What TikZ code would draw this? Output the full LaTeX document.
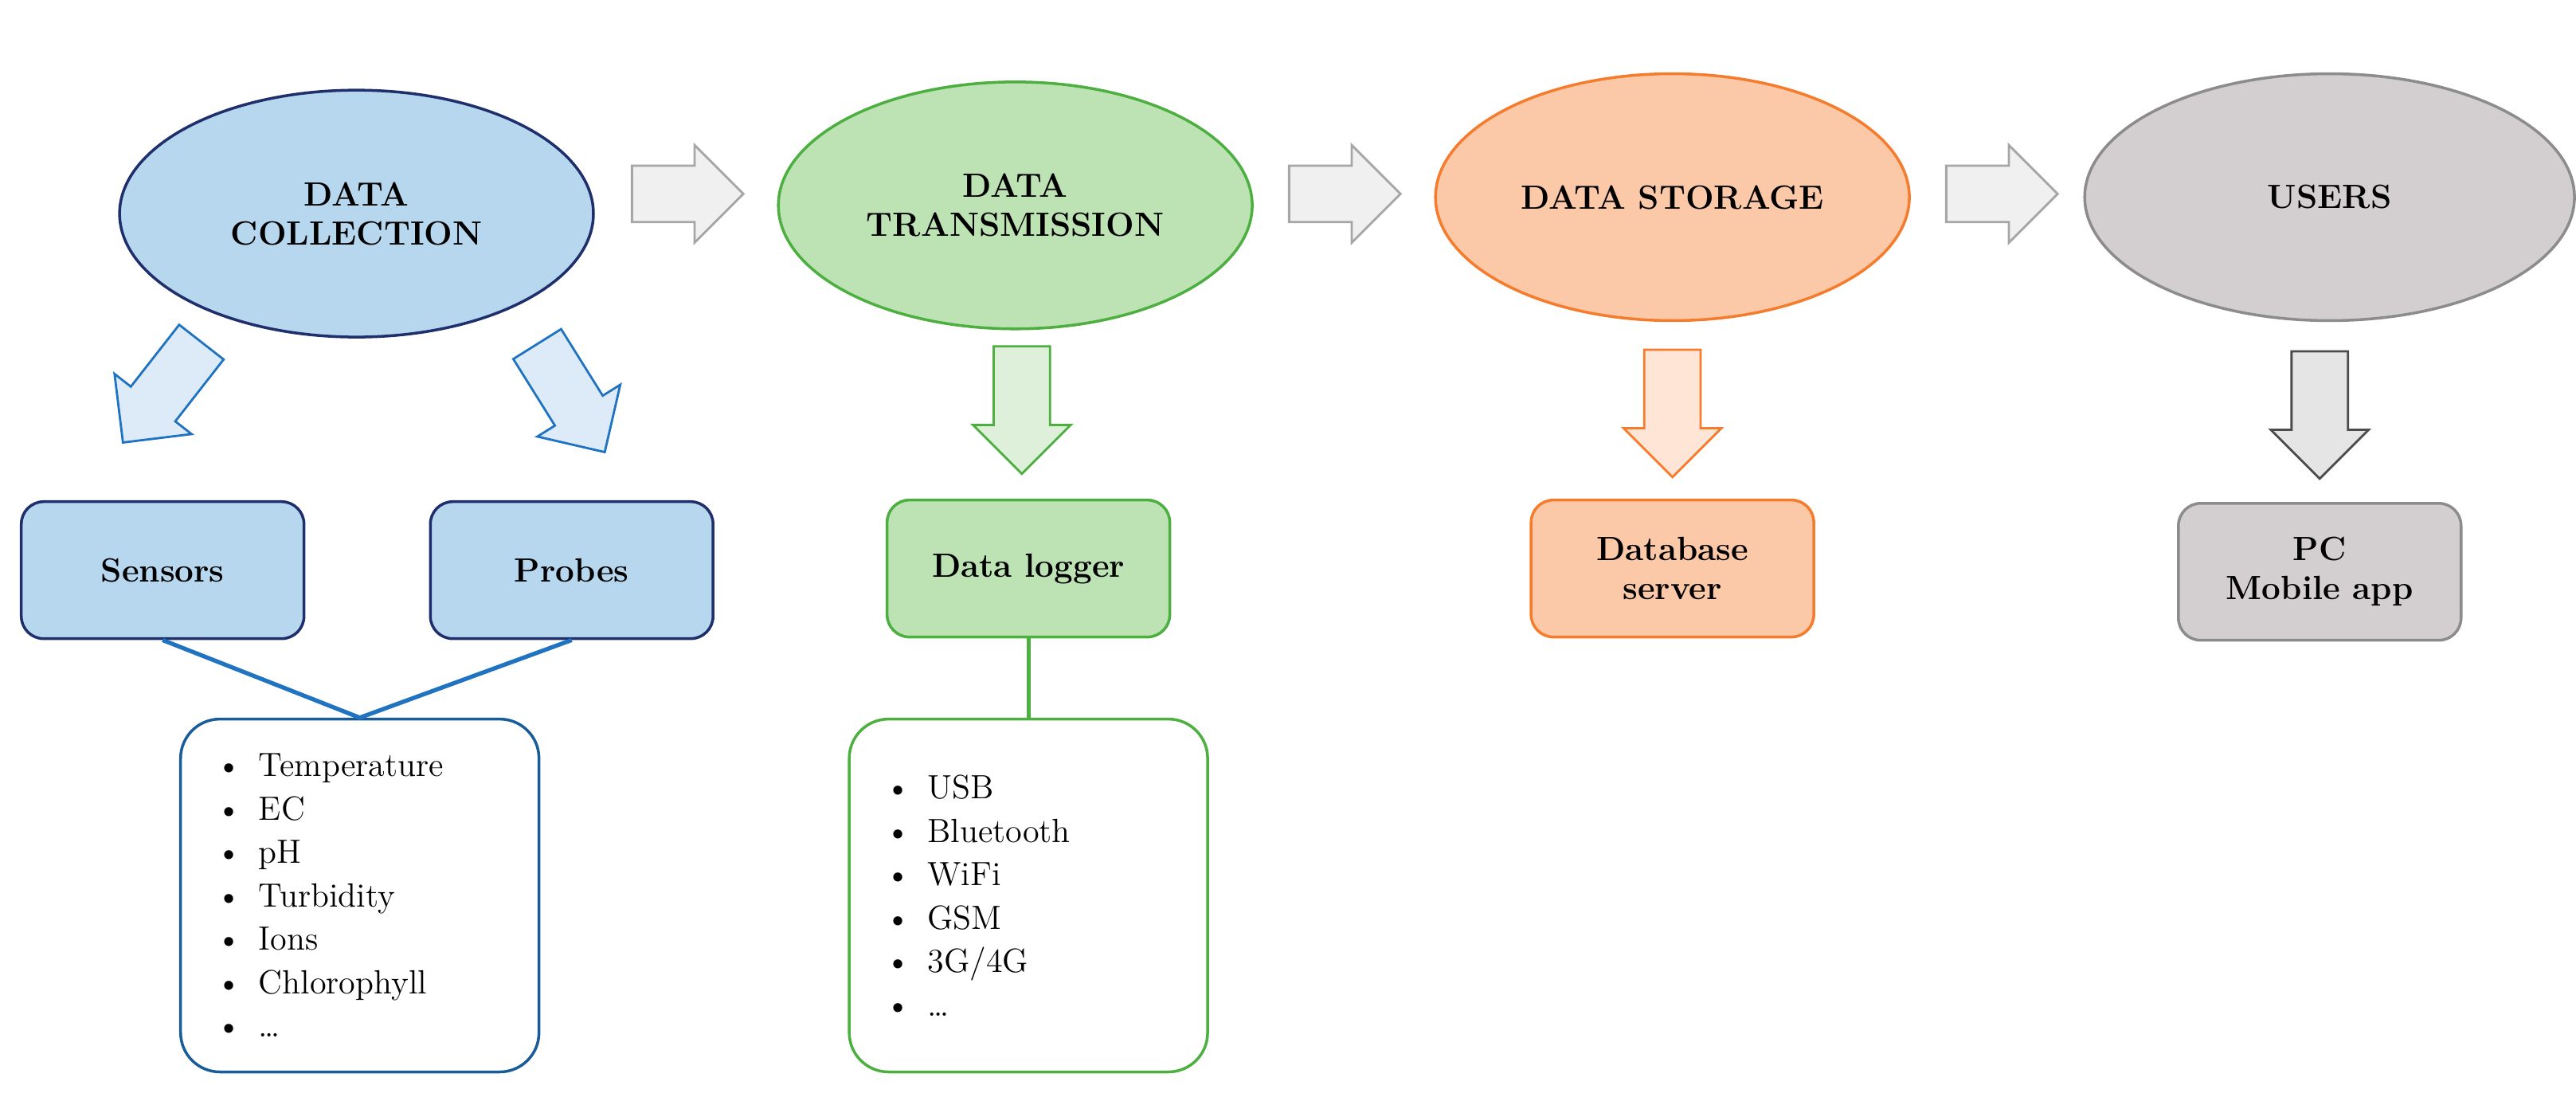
\documentclass[tikz,border=0pt]{standalone}
\usepackage{tikz}
\usetikzlibrary{shapes.geometric, shapes.arrows, positioning}
\definecolor{bluefill}{HTML}{B7D7EF}
\definecolor{bluedark}{HTML}{1F2F6B}
\definecolor{blueline}{HTML}{1F73C0}
\definecolor{bluearrow}{HTML}{DCEBF7}
\definecolor{greenfill}{HTML}{BDE3B5}
\definecolor{greenline}{HTML}{4CAF40}
\definecolor{greenarrow}{HTML}{DFF0DA}
\definecolor{orangefill}{HTML}{FCC9A8}
\definecolor{orangeline}{HTML}{F47C2C}
\definecolor{orangearrow}{HTML}{FEE5D6}
\definecolor{grayfill}{HTML}{D3CFD0}
\definecolor{grayline}{HTML}{8C8C8C}
\definecolor{grayarrow}{HTML}{E5E5E5}
\tikzset{
    stage/.style = {ellipse, draw, line width=1pt, minimum width=5.95cm, minimum height=3.1cm, align=center, font=\large\bfseries},
    device/.style = {rectangle, draw, rounded corners=8pt, line width=1pt, minimum width=3.55cm, minimum height=1.72cm, align=center, font=\large\bfseries},
    listbox/.style = {rectangle, draw, rounded corners=14pt, line width=1pt, align=left, font={\large\setlength\baselineskip{15.5pt}}, inner xsep=0.45cm, text width=3.6cm, minimum height=4.43cm},
    bigarrow/.style = {single arrow, draw, line width=0.8pt, inner xsep=0pt, inner ysep=0.34cm, minimum height=1.4cm, single arrow head extend=0.26cm, single arrow tip angle=90},
}
\newcommand{\itm}{\textbullet\hspace{0.5em}}
\begin{document}
\begin{tikzpicture}[x=0.020625cm, y=-0.020625cm]
    \useasboundingbox (0,0) rectangle (1568,665);
    % --- STAGES ---
    \node [stage, fill=bluefill, draw=bluedark] (collect) at (217,130) {DATA\\COLLECTION};
    \node [stage, fill=greenfill, draw=greenline] (transmit) at (618,125) {DATA\\TRANSMISSION};
    \node [stage, fill=orangefill, draw=orangeline] (store) at (1018,120) {DATA STORAGE};
    \node [stage, fill=grayfill, draw=grayline, minimum width=6.15cm] (users) at (1418,120) {USERS};

    % --- FLOW ARROWS ---
    \node [bigarrow, fill=gray!12, draw=gray!70] (a1) at (410,118) {};
    \node [bigarrow, fill=gray!12, draw=gray!70] (a2) at (810,118) {};
    \node [bigarrow, fill=gray!12, draw=gray!70] (a3) at (1210,118) {};
    \node [bigarrow, fill=bluearrow, draw=blueline, rotate=-128, minimum height=1.6cm] (d1) at (104,232) {};
    \node [bigarrow, fill=bluearrow, draw=blueline, rotate=-58, minimum height=1.6cm] (d2) at (343,235) {};
    \node [bigarrow, fill=greenarrow, draw=greenline, rotate=-90, minimum height=1.6cm] (d3) at (622,241) {};
    \node [bigarrow, fill=orangearrow, draw=orangeline, rotate=-90, minimum height=1.6cm] (d4) at (1018,243) {};
    \node [bigarrow, fill=grayarrow, draw=gray!60!black, rotate=-90, minimum height=1.6cm] (d5) at (1412,244) {};

    % --- DEVICES ---
    \node [device, fill=bluefill, draw=bluedark] (sensors) at (99,347) {Sensors};
    \node [device, fill=bluefill, draw=bluedark] (probes) at (348,347) {Probes};
    \node [device, fill=greenfill, draw=greenline] (logger) at (626,346) {Data logger};
    \node [device, fill=orangefill, draw=orangeline] (server) at (1018,346) {Database\\server};
    \node [device, fill=grayfill, draw=grayline] (app) at (1412,348) {PC\\Mobile app};

    % --- LISTS ---
    \node [listbox, draw=blueline!80!black] (params) at (219,545)
        {\itm Temperature\\ \itm EC\\ \itm pH\\ \itm Turbidity\\ \itm Ions\\ \itm Chlorophyll\\ \itm \dots};
    \node [listbox, draw=greenline] (links) at (626,545)
        {\itm USB\\ \itm Bluetooth\\ \itm WiFi\\ \itm GSM\\ \itm 3G/4G\\ \itm \dots};

    % --- CONNECTORS ---
    \draw [blueline, line width=1.5pt] (sensors.south) -- (params.north) -- (probes.south);
    \draw [greenline, line width=1.5pt] (logger.south) -- (links.north);
\end{tikzpicture}
\end{document}
